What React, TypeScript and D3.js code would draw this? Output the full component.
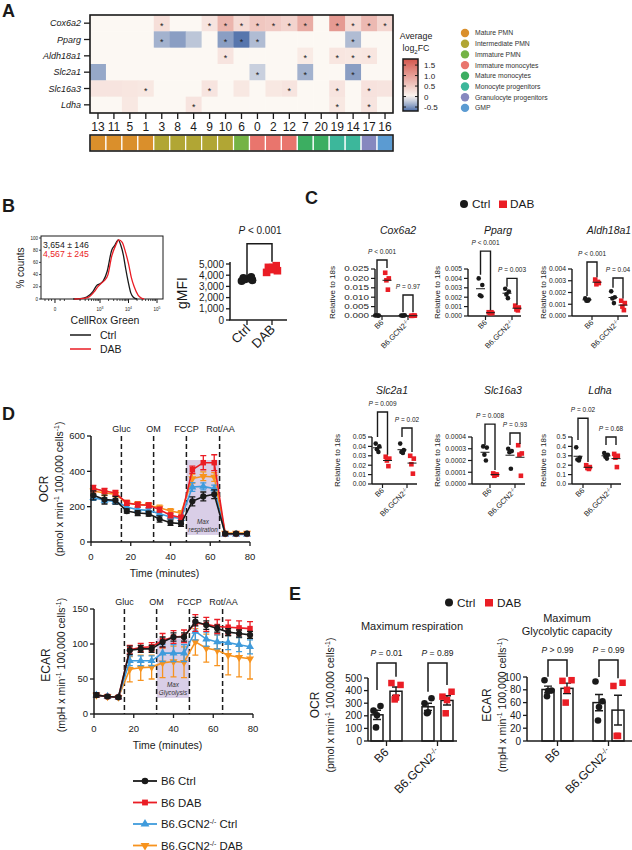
import React from "react";
import * as d3 from "d3";

const FONT = "'Liberation Sans', Arial, Helvetica, sans-serif";
const INK = "#1a1a1a";
const RED = "#ea1d25";

// ---------------- A: heatmap ----------------
const clusters = ["13", "11", "5", "1", "3", "8", "4", "9", "10", "6", "0", "2", "12", "7", "20", "19", "14", "17", "16"];
const clusterTypes = [
  "Mature PMN", "Mature PMN", "Mature PMN", "Mature PMN",
  "Intermediate PMN", "Intermediate PMN", "Intermediate PMN", "Intermediate PMN", "Intermediate PMN",
  "Immature PMN",
  "Immature monocytes", "Immature monocytes", "Immature monocytes",
  "Mature monocytes", "Mature monocytes",
  "Monocyte progenitors", "Monocyte progenitors",
  "Granulocyte progenitors", "GMP",
];
const cellTypes = ["Mature PMN", "Intermediate PMN", "Immature PMN", "Immature monocytes", "Mature monocytes", "Monocyte progenitors", "Granulocyte progenitors", "GMP"];
const cellTypeColors = ["#da8f2b", "#b1a634", "#74b345", "#e9756d", "#3cae61", "#3cb79b", "#8688bf", "#5b9bd2"];

const heatGenes = ["Cox6a2", "Pparg", "Aldh18a1", "Slc2a1", "Slc16a3", "Ldha"];
// average log2FC, one value per cluster (same order as clusters)
const fcCox6a2 = [0, 0, 0, 0, 0.28, 0, 0, 0.22, 0.75, 0.32, 0.55, 0.5, 0.4, 0.85, 0, 1.05, 0.32, 0.7, 0.38];
const fcPparg = [0, 0, 0, 0, -0.35, -0.45, -0.25, 0, -0.45, -0.65, -0.3, 0, 0, 0, 0, 0, -0.3, 0, 0];
const fcAldh18a1 = [0, 0, 0, 0, 0, 0, 0, 0, 0.22, 0, 0, 0, 0, 0.15, 0, 0.2, 0.18, 0.2, 0];
const fcSlc2a1 = [-0.4, 0, 0, 0, 0, 0, 0, 0, 0, 0, -0.2, 0, 0, -0.35, 0, 0, -0.45, 0, 0];
const fcSlc16a3 = [0.22, 0.22, 0.2, 0.18, 0, 0, 0, 0.22, 0, 0.18, 0, 0.18, 0.22, 0, 0, 0.22, 0, 0.24, 0.22];
const fcLdha = [0, 0, 0.18, 0, 0, 0, 0.22, 0, 0, 0, 0, 0, 0, 0, 0, 0.18, 0, 0.22, 0];
// clusters marked with an asterisk
const sigCox6a2 = ["3", "9", "10", "6", "0", "2", "12", "7", "19", "14", "17", "16"];
const sigPparg = ["3", "10", "6", "0", "14"];
const sigAldh18a1 = ["10", "7", "19", "14", "17"];
const sigSlc2a1 = ["0", "7", "14"];
const sigSlc16a3 = ["1", "9", "12", "19", "17"];
const sigLdha = ["4", "19", "17"];
const fcTicks = [1.5, 1.0, 0.5, 0, -0.5];

// ---------------- B: CellRox ----------------
// [log10 fluorescence, % of max]
const histCtrl = [[2.06, 0], [2.3, 0.5], [2.53, 3], [2.75, 12], [2.88, 22], [3.0, 25], [3.12, 30], [3.25, 45], [3.41, 80], [3.52, 88], [3.64, 97], [3.73, 88], [3.82, 72], [3.9, 50], [3.99, 28], [4.08, 10], [4.17, 3], [4.3, 0]];
const histDab = [[2.1, 0], [2.35, 0.5], [2.6, 3], [2.8, 12], [2.92, 20], [3.05, 26], [3.15, 30], [3.28, 40], [3.41, 70], [3.55, 88], [3.66, 97], [3.78, 93], [3.9, 76], [4.0, 58], [4.1, 35], [4.2, 20], [4.34, 6], [4.45, 1.5], [4.55, 0]];
const histTickVals = [1.42, 3, 4, 5];
const histTickExp = ["", "3", "4", "5"];
const histMinor = [1.07, 1.2, 1.3, 1.6, 1.75, 2.3, 2.48, 2.6, 2.7, 2.78, 2.85, 2.9, 2.95, 3.3, 3.48, 3.6, 3.7, 3.78, 3.85, 3.9, 3.95, 4.3, 4.48, 4.6, 4.7, 4.78, 4.85, 4.9, 4.95];
const gmfiGroups = ["Ctrl", "DAB"];
const gmfiCtrl = [3480, 3560, 3640, 3700, 3760, 3850];
const gmfiDab = [4250, 4400, 4500, 4600, 4700, 4850, 4680];

// ---------------- C: qPCR ----------------
const qGroups = ["B6", "B6.GCN2"];
const cox6a2Q = [[0.0003, 0.0002, 0.0004, 0.0002], [0.023, 0.020, 0.019, 0.014], [0.0003, 0.0004, 0.0002, 0.0002], [0.0001, 0.0002, 0.0001, 0.0002]];
const ppargQ = [[0.0040, 0.0033, 0.0022, 0.0021], [0.0004, 0.0003, 0.0003, 0.0004], [0.0029, 0.0026, 0.0023, 0.0019], [0.0011, 0.0009, 0.0007, 0.0006]];
const aldh18a1Q = [[0.0015, 0.0014, 0.0013, 0.0013], [0.0031, 0.0028, 0.0027, 0.0029], [0.0021, 0.0016, 0.0015, 0.0011], [0.0013, 0.0011, 0.0008, 0.0005]];
const slc2a1Q = [[0.043, 0.040, 0.037, 0.034], [0.029, 0.027, 0.025, 0.019], [0.043, 0.036, 0.034, 0.033], [0.030, 0.027, 0.021, 0.011]];
const slc16a3Q = [[0.00032, 0.00031, 0.00025, 0.00020], [0.00009, 0.00008, 0.00007, 0.00008], [0.00030, 0.00028, 0.00027, 0.00013], [0.00033, 0.00026, 0.00025, 0.00007]];
const ldhaQ = [[0.39, 0.28, 0.26, 0.25], [0.20, 0.18, 0.17, 0.16], [0.33, 0.31, 0.29, 0.27], [0.32, 0.30, 0.28, 0.18]];
const cox6a2P = ["< 0.001", "= 0.97"];
const ppargP = ["< 0.001", "= 0.003"];
const aldh18a1P = ["< 0.001", "= 0.04"];
const slc2a1P = ["= 0.009", "= 0.02"];
const slc16a3P = ["= 0.008", "= 0.93"];
const ldhaP = ["= 0.02", "= 0.68"];

// ---------------- D: Seahorse ----------------
const seahorseTimes = [1.2, 6.8, 12.3, 18, 23.5, 29, 34.5, 40, 45.3, 51, 56.5, 62, 67.5, 73, 78.5];
const injectionTimes = [15.3, 31.5, 48, 64.7];
const injectionLabels = ["Gluc", "OM", "FCCP", "Rot/AA"];
const seriesNames = ["B6 Ctrl", "B6 DAB", "B6.GCN2 Ctrl", "B6.GCN2 DAB"];
const seriesColors = [INK, RED, "#3f9bdc", "#f7931e"];
const ocrB6Ctrl = [264, 240, 236, 175, 164, 160, 130, 109, 104, 230, 258, 270, 47, 47, 47];
const ocrB6CtrlErr = [25, 25, 22, 12, 14, 14, 18, 15, 15, 25, 25, 25, 8, 8, 8];
const ocrB6Dab = [302, 289, 277, 221, 211, 208, 183, 151, 138, 409, 449, 449, 47, 47, 47];
const ocrB6DabErr = [18, 15, 15, 14, 14, 14, 14, 14, 14, 20, 40, 45, 6, 6, 6];
const ocrKoCtrl = [251, 236, 230, 198, 183, 179, 160, 142, 132, 311, 315, 302, 43, 43, 43];
const ocrKoCtrlErr = [15, 15, 15, 12, 12, 12, 12, 12, 12, 25, 20, 20, 6, 6, 6];
const ocrKoDab = [289, 277, 270, 221, 213, 208, 194, 175, 164, 359, 372, 368, 51, 51, 51];
const ocrKoDabErr = [15, 15, 15, 15, 15, 15, 15, 14, 14, 25, 25, 25, 8, 8, 8];
const ecarB6Ctrl = [27, 25, 24, 91, 93, 93, 103, 110, 110, 132, 127, 122, 117, 115, 113];
const ecarB6CtrlErr = [3, 2, 2, 6, 5, 5, 7, 6, 6, 6, 6, 5, 5, 5, 5];
const ecarB6Dab = [27, 25, 24, 92, 95, 96, 105, 110, 111, 130, 128, 125, 124, 123, 122];
const ecarB6DabErr = [3, 2, 2, 6, 6, 6, 10, 9, 9, 12, 10, 10, 10, 10, 10];
const ecarKoCtrl = [27, 25, 24, 76, 76, 76, 87, 87, 87, 118, 107, 103, 102, 99, 96];
const ecarKoCtrlErr = [3, 2, 2, 7, 7, 7, 12, 12, 12, 12, 10, 10, 10, 10, 10];
const ecarKoDab = [27, 25, 24, 64, 66, 67, 73, 75, 74, 103, 94, 91, 84, 81, 79];
const ecarKoDabErr = [3, 2, 2, 18, 18, 17, 21, 22, 22, 19, 20, 22, 28, 28, 29];

// ---------------- E: max respiration / glycolytic capacity ----------------
const maxOcr = [[241, 278, 204, 108], [460, 445, 345, 330], [299, 339, 228, 220], [352, 391, 325, 220]];
const maxEcar = [[95, 79, 78, 70], [94, 95, 80, 60], [93, 62, 53, 32], [86, 91, 8, 8]];
const maxOcrP = ["= 0.01", "= 0.89"];
const maxEcarP = ["> 0.99", "= 0.99"];

const sem = (a) => (d3.deviation(a) || 0) / Math.sqrt(a.length);
const jitter = [-1.8, 1.8, -0.6, 0.9, -1.2, 1.4, 0.2];

function PText({ x, y, text, size }) {
  return (
    <text x={x} y={y} fontSize={size} textAnchor="middle" fill={INK}>
      <tspan fontStyle="italic">P</tspan>{" " + text}
    </text>
  );
}

function Marker({ kind, x, y, size, color }) {
  if (kind === 0) return <circle cx={x} cy={y} r={size / 2} fill={color} />;
  return <rect x={x - size / 2} y={y - size / 2} width={size} height={size} fill={color} />;
}

function PanelA() {
  const x = d3.scaleBand().domain(clusters).range([90, 393]);
  const y = d3.scaleBand().domain(heatGenes).range([15, 113]);
  const color = d3.scaleLinear().domain([-0.7, 0, 1.8]).range(["#4a6ca8", "#fcf8f3", "#d4564c"]).clamp(true);
  const typeColor = d3.scaleOrdinal().domain(cellTypes).range(cellTypeColors);
  const leg = d3.scaleLinear().domain([-0.69, 1.79]).range([111, 59]);
  const fcRows = [fcCox6a2, fcPparg, fcAldh18a1, fcSlc2a1, fcSlc16a3, fcLdha];
  const sigRows = [sigCox6a2, sigPparg, sigAldh18a1, sigSlc2a1, sigSlc16a3, sigLdha];
  const bw = x.bandwidth();
  const bh = y.bandwidth();
  const [x0, x1] = x.range();
  const [y0, y1] = y.range();
  const stops = d3.range(0, 1.001, 0.1);
  return (
    <g>
      <text x={2} y={17} fontSize={18} fontWeight="bold">A</text>
      {heatGenes.map((g, r) =>
        fcRows[r].map((v, c) => (
          <rect key={g + c} x={x(clusters[c])} y={y(g)} width={bw + 0.4} height={bh + 0.4} fill={color(v)} />
        ))
      )}
      {heatGenes.map((g, r) =>
        sigRows[r].map((cl) => (
          <text key={g + "*" + cl} x={x(cl) + bw / 2} y={y(g) + bh / 2 + 5.4} textAnchor="middle" fontSize={9} fill="#222">*</text>
        ))
      )}
      <rect x={x0} y={y0} width={x1 - x0} height={y1 - y0} fill="none" stroke={INK} strokeWidth={1.6} />
      {heatGenes.map((g) => (
        <g key={g}>
          <line x1={84} x2={x0} y1={y(g) + bh / 2} y2={y(g) + bh / 2} stroke={INK} strokeWidth={1.3} />
          <text x={81} y={y(g) + bh / 2 + 3.2} textAnchor="end" fontSize={9} fontStyle="italic">{g}</text>
        </g>
      ))}
      {clusters.map((c, i) => (
        <g key={c}>
          <line x1={x(c) + bw / 2} x2={x(c) + bw / 2} y1={y1} y2={y1 + 6} stroke={INK} strokeWidth={1.3} />
          <text x={x(c) + bw / 2} y={131} textAnchor="middle" fontSize={12}>{c}</text>
          <rect x={x(c)} y={135} width={bw} height={16} fill={typeColor(clusterTypes[i])} stroke="#fff" strokeWidth={1.2} />
        </g>
      ))}
      <rect x={x0} y={135} width={x1 - x0} height={16} fill="none" stroke={INK} strokeWidth={1.6} />

      <text x={416} y={39} textAnchor="middle" fontSize={8.8}>Average</text>
      <text x={416} y={51} textAnchor="middle" fontSize={8.8}>
        log<tspan dy={2.5} fontSize={6}>2</tspan><tspan dy={-2.5}>FC</tspan>
      </text>
      <defs>
        <linearGradient id="fcgrad" x1="0" y1="1" x2="0" y2="0">
          {stops.map((s) => (
            <stop key={s} offset={s} stopColor={color(leg.domain()[0] + s * (leg.domain()[1] - leg.domain()[0]))} />
          ))}
        </linearGradient>
      </defs>
      <rect x={403} y={59} width={15} height={52} fill="url(#fcgrad)" stroke={INK} strokeWidth={1.5} />
      {fcTicks.map((t) => (
        <g key={t}>
          <line x1={403} x2={406} y1={leg(t)} y2={leg(t)} stroke={INK} strokeWidth={1} />
          <line x1={415} x2={418} y1={leg(t)} y2={leg(t)} stroke={INK} strokeWidth={1} />
          <text x={424} y={leg(t) + 3} fontSize={8}>{t === 0 ? "0" : t.toFixed(1)}</text>
        </g>
      ))}
      {cellTypes.map((t, i) => (
        <g key={t}>
          <circle cx={465} cy={33 + i * 10.7} r={4.2} fill={cellTypeColors[i]} />
          <text x={475} y={35.4 + i * 10.7} fontSize={6.8} fill="#333">{t}</text>
        </g>
      ))}
    </g>
  );
}

function PanelB() {
  const hx = d3.scaleLinear().domain([3, 5]).range([100, 157]);
  const hy = d3.scaleLinear().domain([0, 100]).range([299, 238]);
  const line = d3.line().x((d) => hx(d[0])).y((d) => hy(d[1])).curve(d3.curveMonotoneX);
  const gy = d3.scaleLinear().domain([0, 5000]).range([320, 264]);
  const gx = d3.scalePoint().domain(gmfiGroups).range([247, 272]);
  return (
    <g>
      <text x={2} y={212} fontSize={18} fontWeight="bold">B</text>
      <rect x={41} y={236} width={122} height={63} fill="none" stroke={INK} strokeWidth={1} />
      <path d={line(histCtrl)} fill="none" stroke={INK} strokeWidth={1.3} />
      <path d={line(histDab)} fill="none" stroke={RED} strokeWidth={1.3} />
      {d3.range(0, 101, 20).map((t) => (
        <g key={t}>
          <line x1={39} x2={41} y1={hy(t)} y2={hy(t)} stroke={INK} strokeWidth={0.8} />
          <text x={38} y={hy(t) + 1.5} textAnchor="end" fontSize={4.5}>{t}</text>
        </g>
      ))}
      {histMinor.map((t) => (
        <line key={t} x1={hx(t)} x2={hx(t)} y1={299} y2={301} stroke={INK} strokeWidth={0.8} />
      ))}
      {histTickVals.map((t, i) => (
        <g key={t}>
          <line x1={hx(t)} x2={hx(t)} y1={299} y2={303} stroke={INK} strokeWidth={1} />
          <text x={hx(t)} y={311} textAnchor="middle" fontSize={4.5}>
            {i === 0 ? "0" : "10"}
            {i > 0 && <tspan dy={-2} fontSize={3.5}>{histTickExp[i]}</tspan>}
          </text>
        </g>
      ))}
      <text x={43} y={248} fontSize={8.7} fill={INK}>3,654 ± 146</text>
      <text x={43} y={257} fontSize={8.7} fill={RED}>4,567 ± 245</text>
      <text transform="translate(24,268) rotate(-90)" textAnchor="middle" fontSize={10}>% counts</text>
      <text x={105} y={324} textAnchor="middle" fontSize={10.5}>CellRox Green</text>
      <line x1={70} x2={91} y1={335} y2={335} stroke={INK} strokeWidth={1.5} />
      <text x={100} y={338.5} fontSize={10.5}>Ctrl</text>
      <line x1={70} x2={91} y1={349} y2={349} stroke={RED} strokeWidth={1.5} />
      <text x={100} y={352.5} fontSize={10.5}>DAB</text>

      <line x1={230} x2={230} y1={320} y2={262} stroke={INK} strokeWidth={1.5} />
      <line x1={229} x2={287} y1={320} y2={320} stroke={INK} strokeWidth={1.5} />
      {d3.range(0, 5001, 1000).map((t) => (
        <g key={t}>
          <line x1={226} x2={230} y1={gy(t)} y2={gy(t)} stroke={INK} strokeWidth={1.3} />
          <text x={224} y={gy(t) + 3.5} textAnchor="end" fontSize={10}>{d3.format(",")(t)}</text>
        </g>
      ))}
      {gmfiGroups.map((g) => (
        <g key={g}>
          <line x1={gx(g)} x2={gx(g)} y1={320} y2={325} stroke={INK} strokeWidth={1.3} />
          <text transform={`translate(${gx(g) + 4},${330}) rotate(-45)`} textAnchor="end" fontSize={13}>{g}</text>
        </g>
      ))}
      {gmfiCtrl.map((v, i) => (
        <circle key={"c" + i} cx={gx("Ctrl") + jitter[i] * 3} cy={gy(v)} r={4} fill={INK} />
      ))}
      {gmfiDab.map((v, i) => (
        <rect key={"d" + i} x={gx("DAB") + jitter[i] * 3 - 3.8} y={gy(v) - 3.8} width={7.6} height={7.6} fill={RED} />
      ))}
      <path d={`M${gx("Ctrl")},${gy(3950)}V${gy(6800)}H${gx("DAB")}V${gy(5200)}`} fill="none" stroke={INK} strokeWidth={1.5} />
      <PText x={260} y={234} text="< 0.001" size={10} />
      <text transform="translate(187,293) rotate(-90)" textAnchor="middle" fontSize={14}>gMFI</text>
    </g>
  );
}

function QpcrPlot({ p }) {
  const y = d3.scaleLinear().domain([0, p.max]).range([p.y0, p.y0 - 47]);
  const gx = d3.scalePoint().domain(qGroups).range([p.g1, p.g2]);
  const cx = (k) => gx(qGroups[k >> 1]) + (k & 1 ? 5 : -5);
  const ticks = d3.range(0, p.max + p.step / 2, p.step);
  const fmt = d3.format(p.fmt);
  return (
    <g>
      <text x={p.titleX} y={p.y0 - p.titleOff} textAnchor="middle" fontSize={10.5} fontStyle="italic">{p.title}</text>
      <text transform={`translate(${p.ylabX},${p.y0 - 23.5}) rotate(-90)`} textAnchor="middle" fontSize={8}>Relative to 18s</text>
      <line x1={p.axisX} x2={p.axisX} y1={p.y0} y2={y(p.max)} stroke={INK} strokeWidth={1.4} />
      <line x1={p.axisX} x2={p.xEnd} y1={p.y0} y2={p.y0} stroke={INK} strokeWidth={1.4} />
      {ticks.map((t) => (
        <g key={t}>
          <line x1={p.axisX - 4} x2={p.axisX} y1={y(t)} y2={y(t)} stroke={INK} strokeWidth={1.2} />
          <text transform={`translate(${p.axisX - 6},${y(t) + 2.4}) scale(${p.stretch},1)`} textAnchor="end" fontSize={6.8}>{fmt(t)}</text>
        </g>
      ))}
      {qGroups.map((g) => (
        <g key={g}>
          <line x1={gx(g)} x2={gx(g)} y1={p.y0} y2={p.y0 + 4} stroke={INK} strokeWidth={1.2} />
          <text transform={`translate(${gx(g) + 2},${p.y0 + 7}) rotate(-45)`} textAnchor="end" fontSize={7.5}>
            {g}
            {g !== "B6" && <tspan dy={-2.5} fontSize={5}>-/-</tspan>}
          </text>
        </g>
      ))}
      {p.data.map((vals, k) => (
        <g key={k}>
          {vals.map((v, i) => (
            <Marker key={i} kind={k & 1} x={cx(k) + jitter[i]} y={y(v)} size={4.6} color={k & 1 ? RED : INK} />
          ))}
          <line x1={cx(k) - 4.5} x2={cx(k) + 4.5} y1={y(d3.mean(vals))} y2={y(d3.mean(vals))} stroke={INK} strokeWidth={1} />
        </g>
      ))}
      {p.brackets.map((b, i) => {
        const xl = cx(i * 2);
        const xr = cx(i * 2 + 1);
        return (
          <g key={i}>
            <path d={`M${xl},${y(b[1])}V${y(b[0])}H${xr}V${y(b[2])}`} fill="none" stroke={INK} strokeWidth={1.4} />
            <PText x={(xl + xr) / 2} y={y(b[0]) - 6} text={p.pvals[i]} size={6.5} />
          </g>
        );
      })}
    </g>
  );
}

function PanelC() {
  const plots = [
    { title: "Cox6a2", data: cox6a2Q, pvals: cox6a2P, max: 0.025, step: 0.005, fmt: ".3f", axisX: 375, g1: 382, g2: 408, xEnd: 417, y0: 316, titleOff: 82, titleX: 398, ylabX: 335, stretch: 1.45, brackets: [[0.0298, 0.0016, 0.0255], [0.0112, 0.002, 0.002]] },
    { title: "Pparg", data: ppargQ, pvals: ppargP, max: 0.005, step: 0.001, fmt: ".3f", axisX: 468, g1: 485.5, g2: 512, xEnd: 521, y0: 316, titleOff: 82, titleX: 498, ylabX: 440, stretch: 1, brackets: [[0.0069, 0.0044, 0.0006], [0.0040, 0.0031, 0.0012]] },
    { title: "Aldh18a1", data: aldh18a1Q, pvals: aldh18a1P, max: 0.004, step: 0.001, fmt: ".3f", axisX: 572, g1: 592, g2: 618, xEnd: 628, y0: 316, titleOff: 82, titleX: 609, ylabX: 546, stretch: 1, brackets: [[0.0046, 0.0017, 0.0033], [0.00323, 0.0024, 0.0015]] },
    { title: "Slc2a1", data: slc2a1Q, pvals: slc2a1P, max: 0.05, step: 0.01, fmt: ".2f", axisX: 372, g1: 382.5, g2: 407, xEnd: 417, y0: 484, titleOff: 90, titleX: 392, ylabX: 340, stretch: 1, brackets: [[0.0766, 0.05, 0.031], [0.0596, 0.05, 0.034]] },
    { title: "Slc16a3", data: slc16a3Q, pvals: slc16a3P, max: 0.0004, step: 0.0001, fmt: ".4f", axisX: 472, g1: 490, g2: 515, xEnd: 525, y0: 484, titleOff: 90, titleX: 503, ylabX: 440, stretch: 1, brackets: [[0.00051, 0.000332, 0.000119], [0.000434, 0.000332, 0.00034]] },
    { title: "Ldha", data: ldhaQ, pvals: ldhaP, max: 0.5, step: 0.1, fmt: ".1f", axisX: 572, g1: 583, g2: 611, xEnd: 621, y0: 484, titleOff: 90, titleX: 600, ylabX: 546, stretch: 1, brackets: [[0.70, 0.468, 0.234], [0.5, 0.415, 0.415]] },
  ];
  return (
    <g>
      <text x={305} y={204} fontSize={18} fontWeight="bold">C</text>
      <circle cx={464} cy={204} r={4} fill={INK} />
      <text x={472} y={208} fontSize={11.8}>Ctrl</text>
      <rect x={499} y={200.5} width={8} height={7.5} fill={RED} />
      <text x={510} y={208} fontSize={11.8}>DAB</text>
      {plots.map((p) => <QpcrPlot key={p.title} p={p} />)}
    </g>
  );
}

function SeahorsePlot({ c }) {
  const x = d3.scaleLinear().domain([0, 80]).range([c.x0, c.x1]);
  const y = d3.scaleLinear().domain([0, c.yMax]).range([c.y0, c.yTop]);
  const line = d3.line().x((d, i) => x(seahorseTimes[i])).y((d) => y(d));
  const sym = [d3.symbolCircle, d3.symbolSquare, d3.symbolTriangle, d3.symbolTriangle];
  const sizes = [30, 30, 28, 28];
  const cxs = (c.shade[0] + c.shade[1]) / 2;
  return (
    <g>
      <rect x={x(c.shade[0])} y={y(c.shade[3])} width={x(c.shade[1]) - x(c.shade[0])} height={y(c.shade[2]) - y(c.shade[3])} fill="#d9cee7" />
      {c.shadeText.map((t, i) => (
        <text key={t} x={x(cxs)} y={y(c.shade[2]) - 10.5 + i * 8} textAnchor="middle" fontSize={6.3} fontStyle="italic" fill="#333">{t}</text>
      ))}
      {injectionTimes.map((t, i) => (
        <g key={t}>
          <line x1={x(t)} x2={x(t)} y1={c.yTop} y2={c.y0} stroke={INK} strokeWidth={1.5} strokeDasharray="5,3" />
          <text x={x(t) + (i === 3 ? 1 : 0)} y={c.yTop - 4} textAnchor="middle" fontSize={9}>{injectionLabels[i]}</text>
        </g>
      ))}
      {[3, 2, 1, 0].map((s) => (
        <g key={s}>
          {c.series[s].map((v, i) => {
            const e = c.errs[s][i];
            const px = x(seahorseTimes[i]);
            return (
              <path key={i} d={`M${px},${y(v - e)}V${y(v + e)}M${px - 3},${y(v + e)}H${px + 3}M${px - 3},${y(v - e)}H${px + 3}`} stroke={seriesColors[s]} strokeWidth={1.3} fill="none" />
            );
          })}
          <path d={line(c.series[s])} fill="none" stroke={seriesColors[s]} strokeWidth={1.6} />
          {c.series[s].map((v, i) => (
            <path key={"m" + i} transform={`translate(${x(seahorseTimes[i])},${y(v)}) rotate(${s === 3 ? 180 : 0})`} d={d3.symbol().type(sym[s]).size(sizes[s])()} fill={seriesColors[s]} />
          ))}
        </g>
      ))}
      <line x1={c.x0} x2={c.x0} y1={c.y0} y2={c.yTop} stroke={INK} strokeWidth={1.5} />
      <line x1={c.x0} x2={c.x1} y1={c.y0} y2={c.y0} stroke={INK} strokeWidth={1.5} />
      {c.yTicks.map((t) => (
        <g key={t}>
          <line x1={c.x0 - 4} x2={c.x0} y1={y(t)} y2={y(t)} stroke={INK} strokeWidth={1.3} />
          <text x={c.x0 - 6} y={y(t) + 3.3} textAnchor="end" fontSize={9.5}>{t}</text>
        </g>
      ))}
      {d3.range(0, 81, 20).map((t) => (
        <g key={t}>
          <line x1={x(t)} x2={x(t)} y1={c.y0} y2={c.y0 + 4} stroke={INK} strokeWidth={1.3} />
          <text x={x(t)} y={c.y0 + 17.5} textAnchor="middle" fontSize={9.5}>{t}</text>
        </g>
      ))}
      <text x={(c.x0 + c.x1) / 2 - 6} y={c.y0 + 35} textAnchor="middle" fontSize={10.5}>Time (minutes)</text>
      <text transform={`translate(${c.labX},${c.labY}) rotate(-90)`} textAnchor="middle" fontSize={12}>{c.title}</text>
      <text transform={`translate(${c.labX + 15},${c.labY}) rotate(-90)`} textAnchor="middle" fontSize={10.5}>
        {c.unit}<tspan dy={-4} fontSize={7}>-1</tspan><tspan dy={4}> 100,000 cells</tspan><tspan dy={-4} fontSize={7}>-1</tspan><tspan dy={4}>)</tspan>
      </text>
    </g>
  );
}

function PanelD() {
  const ocr = {
    x0: 91, x1: 250, y0: 542, yTop: 436, yMax: 600, yTicks: [0, 200, 400, 600],
    series: [ocrB6Ctrl, ocrB6Dab, ocrKoCtrl, ocrKoDab], errs: [ocrB6CtrlErr, ocrB6DabErr, ocrKoCtrlErr, ocrKoDabErr],
    shade: [48, 64.7, 40, 464], shadeText: ["Max", "respiration"], title: "OCR", unit: "(pmol x min", labX: 48, labY: 489,
  };
  const ecar = {
    x0: 94, x1: 253, y0: 714, yTop: 609, yMax: 150, yTicks: [0, 50, 100, 150],
    series: [ecarB6Ctrl, ecarB6Dab, ecarKoCtrl, ecarKoDab], errs: [ecarB6CtrlErr, ecarB6DabErr, ecarKoCtrlErr, ecarKoDabErr],
    shade: [31.5, 48, 23, 108], shadeText: ["Max", "Glycolysis"], title: "ECAR", unit: "(mpH x min", labX: 50, labY: 665,
  };
  const sym = [d3.symbolCircle, d3.symbolSquare, d3.symbolTriangle, d3.symbolTriangle];
  return (
    <g>
      <text x={2} y={420} fontSize={18} fontWeight="bold">D</text>
      <SeahorsePlot c={ocr} />
      <SeahorsePlot c={ecar} />
      {seriesNames.map((n, i) => {
        const yy = 781 + i * 21.5;
        const ko = n.startsWith("B6.GCN2");
        return (
          <g key={n}>
            <line x1={133} x2={157} y1={yy} y2={yy} stroke={seriesColors[i]} strokeWidth={1.8} />
            <path transform={`translate(145,${yy}) rotate(${i === 3 ? 180 : 0})`} d={d3.symbol().type(sym[i]).size(34)()} fill={seriesColors[i]} />
            <text x={161} y={yy + 4} fontSize={11.4}>
              {ko ? "B6.GCN2" : n}
              {ko && <tspan dy={-4} fontSize={7}>-/-</tspan>}
              {ko && <tspan dy={4}>{n.replace("B6.GCN2", "")}</tspan>}
            </text>
          </g>
        );
      })}
    </g>
  );
}

function BarPlot({ c }) {
  const y = d3.scaleLinear().domain([0, c.yMax]).range([741, c.yTop]);
  const gx = d3.scalePoint().domain(qGroups).range([c.g1, c.g2]);
  const cx = (k) => gx(qGroups[k >> 1]) + (k & 1 ? 9.5 : -9.5);
  const dotOff = [-3.5, 3.5, 0, -1];
  return (
    <g>
      {c.data.map((vals, k) => {
        const m = d3.mean(vals);
        const s = sem(vals);
        const bx = cx(k);
        return (
          <g key={k}>
            <rect x={bx - 6} y={y(m)} width={12} height={741 - y(m)} fill="#fff" stroke={INK} strokeWidth={1.5} />
            <path d={`M${bx},${y(m - s)}V${y(m + s)}M${bx - 4},${y(m + s)}H${bx + 4}M${bx - 4},${y(m - s)}H${bx + 4}`} stroke={INK} strokeWidth={1.4} fill="none" />
            {vals.map((v, i) => (
              <Marker key={i} kind={k & 1} x={bx + dotOff[i] * (k & 1 ? 1.3 : 1)} y={y(v)} size={k & 1 ? 6.5 : 6.6} color={k & 1 ? RED : INK} />
            ))}
          </g>
        );
      })}
      <line x1={c.axisX} x2={c.axisX} y1={741} y2={c.yTop} stroke={INK} strokeWidth={1.5} />
      <line x1={c.axisX} x2={c.xEnd} y1={741} y2={741} stroke={INK} strokeWidth={1.5} />
      {d3.range(0, c.yMax + 1, c.step).map((t) => (
        <g key={t}>
          <line x1={c.axisX - 4} x2={c.axisX} y1={y(t)} y2={y(t)} stroke={INK} strokeWidth={1.3} />
          <text x={c.axisX - 6} y={y(t) + 3.5} textAnchor="end" fontSize={10}>{t}</text>
        </g>
      ))}
      {qGroups.map((g) => (
        <g key={g}>
          <line x1={gx(g)} x2={gx(g)} y1={741} y2={746} stroke={INK} strokeWidth={1.3} />
          <text transform={`translate(${gx(g) + 3},${753}) rotate(-45)`} textAnchor="end" fontSize={12}>
            {g}
            {g !== "B6" && <tspan dy={-4} fontSize={7.5}>-/-</tspan>}
          </text>
        </g>
      ))}
      {c.brackets.map((b, i) => {
        const xl = cx(i * 2);
        const xr = cx(i * 2 + 1);
        return (
          <g key={i}>
            <path d={`M${xl},${y(b[1])}V${y(b[0])}H${xr}V${y(b[2])}`} fill="none" stroke={INK} strokeWidth={1.5} />
            <PText x={(xl + xr) / 2} y={y(b[0]) - 7} text={c.pvals[i]} size={8.5} />
          </g>
        );
      })}
      {c.titles.map((t, i) => (
        <text key={t} x={c.titleX} y={c.titleY + i * 13} textAnchor="middle" fontSize={11}>{t}</text>
      ))}
      <text transform={`translate(${c.labX},705) rotate(-90)`} textAnchor="middle" fontSize={12}>{c.title}</text>
      <text transform={`translate(${c.labX + 15},705) rotate(-90)`} textAnchor="middle" fontSize={10.5}>
        {c.unit}<tspan dy={-4} fontSize={7}>-1</tspan><tspan dy={4}> 100,000 cells</tspan><tspan dy={-4} fontSize={7}>-1</tspan><tspan dy={4}>)</tspan>
      </text>
    </g>
  );
}

function PanelE() {
  const ocr = {
    data: maxOcr, pvals: maxOcrP, yMax: 500, step: 100, yTop: 678, axisX: 368, g1: 386.5, g2: 437.5, xEnd: 457,
    brackets: [[619, 405, 510], [619, 391, 444]], titles: ["Maximum respiration"], titleX: 412, titleY: 630,
    title: "OCR", unit: "(pmol x min", labX: 319,
  };
  const ecar = {
    data: maxEcar, pvals: maxEcarP, yMax: 100, step: 20, yTop: 677, axisX: 527, g1: 557.5, g2: 608.5, xEnd: 632,
    brackets: [[126.5, 100.5, 100.5], [126.5, 100, 98]], titles: ["Maximum", "Glycolytic capacity"], titleX: 567, titleY: 622,
    title: "ECAR", unit: "(mpH x min", labX: 491,
  };
  return (
    <g>
      <text x={289} y={600} fontSize={18} fontWeight="bold">E</text>
      <circle cx={449} cy={602.5} r={4} fill={INK} />
      <text x={457} y={607} fontSize={11.8}>Ctrl</text>
      <rect x={485} y={599} width={8} height={7.5} fill={RED} />
      <text x={497} y={607} fontSize={11.8}>DAB</text>
      <BarPlot c={ocr} />
      <BarPlot c={ecar} />
    </g>
  );
}

export default function App() {
  return (
    <svg width={632} height={850} fontFamily={FONT} fill={INK} style={{ position: "absolute", left: 0, top: 0, background: "#fff" }}>
      <PanelA />
      <PanelB />
      <PanelC />
      <PanelD />
      <PanelE />
    </svg>
  );
}
